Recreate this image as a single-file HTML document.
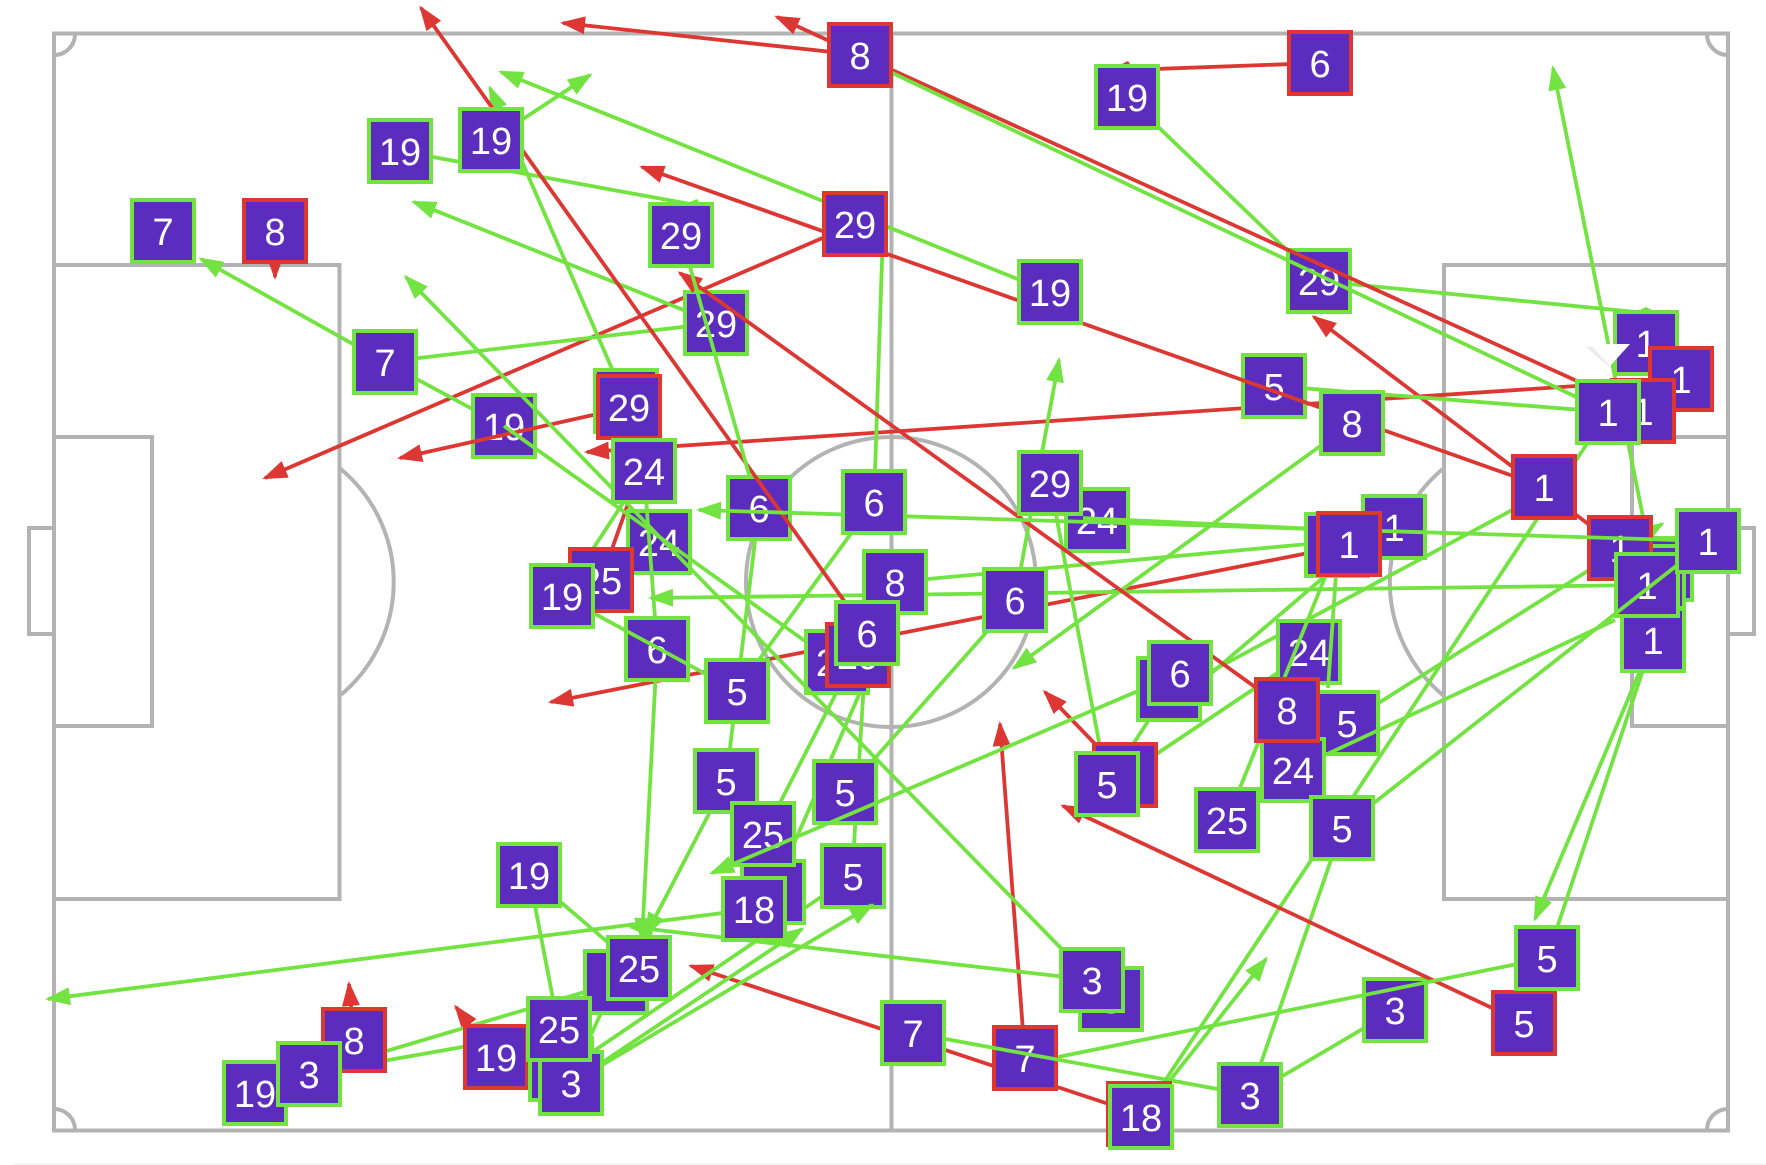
<!DOCTYPE html>
<html lang="en">
<head>
<meta charset="utf-8">
<title>Pass map</title>
<style>
html,body{margin:0;padding:0;background:#fff;}
svg{display:block;}
.p{fill:none;stroke:#b3b3b3;stroke-width:4;}
line{stroke-width:3.8;fill:none;}
.g{stroke:#72e340;}
.r{stroke:#dc3733;}
.ga{stroke:#72e340;marker-end:url(#mg);}
.ra{stroke:#dc3733;marker-end:url(#mr);}
rect.bg{fill:#5b2cbd;stroke:#72e340;stroke-width:4;}
rect.br{fill:#5b2cbd;stroke:#dc3733;stroke-width:4;}
text{font-family:"Liberation Sans",Arial,sans-serif;font-size:38px;fill:#fff;text-anchor:middle;}
</style>
</head>
<body>
<svg width="1766" height="1165" viewBox="0 0 1766 1165" xmlns="http://www.w3.org/2000/svg">
<defs>
<marker id="mg" markerUnits="userSpaceOnUse" markerWidth="26" markerHeight="20" refX="22" refY="9" orient="auto"><path d="M0,0 L25,9 L0,18 Z" fill="#72e340"/></marker>
<marker id="mr" markerUnits="userSpaceOnUse" markerWidth="26" markerHeight="20" refX="22" refY="9" orient="auto"><path d="M0,0 L25,9 L0,18 Z" fill="#dc3733"/></marker>
</defs>
<rect x="12" y="1163" width="1754" height="2" fill="#f4f6f7"/>
<!-- pitch -->
<rect class="p" x="54" y="33.5" width="1674" height="1097"/>
<line class="p" x1="891.5" y1="33.5" x2="891.5" y2="1130.5"/>
<circle class="p" cx="891" cy="582" r="145"/>
<rect class="p" x="54" y="265" width="285.5" height="634"/>
<rect class="p" x="1444" y="265" width="284" height="634"/>
<rect class="p" x="54" y="437" width="98" height="289"/>
<rect class="p" x="1632" y="437" width="96" height="289"/>
<path class="p" d="M54,528 H29 V634 H54"/>
<path class="p" d="M1728,528 H1754 V634 H1728"/>
<path class="p" d="M339.5,468 A147,147 0 0 1 339.5,696"/>
<path class="p" d="M1444,468 A147,147 0 0 0 1444,696"/>
<path class="p" d="M54,55 A21,21 0 0 0 75,33.5"/>
<path class="p" d="M1707,33.5 A21,21 0 0 0 1728,55"/>
<path class="p" d="M54,1109 A21,21 0 0 1 75,1130.5"/>
<path class="p" d="M1707,1130.5 A21,21 0 0 1 1728,1109"/>

<!-- tier 0 lines -->
<line class="ra" x1="860" y1="55" x2="563" y2="23"/>
<line class="ra" x1="860" y1="55" x2="777" y2="17"/>
<line class="ra" x1="855" y1="224" x2="265" y2="478"/>
<line class="ra" x1="1620" y1="548" x2="1314" y2="317"/>
<line class="ra" x1="1681" y1="379" x2="587" y2="452"/>
<line class="ra" x1="275" y1="231" x2="275" y2="277"/>
<line class="r" x1="1320" y1="63" x2="1127" y2="70"/>
<line class="ra" x1="1349" y1="545" x2="551" y2="702"/>
<line class="ra" x1="1139" y1="1114" x2="691" y2="966"/>
<line class="ra" x1="1025" y1="1058" x2="1000" y2="724"/>
<line class="ra" x1="1125" y1="775" x2="1045" y2="692"/>
<line class="ra" x1="354" y1="1040" x2="349" y2="984"/>
<line class="ra" x1="495" y1="1058" x2="456" y2="1007"/>
<line class="r" x1="601" y1="580" x2="640" y2="470"/>

<line class="ga" x1="1050" y1="292" x2="501" y2="72"/>
<line class="ga" x1="491" y1="140" x2="590" y2="75"/>
<line class="ga" x1="626" y1="401" x2="490" y2="88"/>
<line class="g" x1="400" y1="151" x2="690" y2="204"/>
<line class="ga" x1="716" y1="323" x2="414" y2="202"/>
<line class="ga" x1="385" y1="362" x2="201" y2="259"/>
<line class="g" x1="385" y1="362" x2="716" y2="323"/>
<line class="g" x1="385" y1="362" x2="504" y2="426"/>
<line class="g" x1="874" y1="502" x2="883" y2="230"/>
<line class="ga" x1="895" y1="582" x2="1384" y2="537"/>
<line class="ga" x1="1647" y1="585" x2="651" y2="598"/>
<line class="g" x1="759" y1="508" x2="726" y2="781"/>
<line class="ga" x1="726" y1="781" x2="646" y2="935"/>
<line class="ga" x1="657" y1="649" x2="642" y2="940"/>
<line class="g" x1="529" y1="875" x2="639" y2="969"/>
<line class="g" x1="529" y1="875" x2="559" y2="1030"/>
<line class="ga" x1="754" y1="909" x2="48" y2="999"/>
<line class="ga" x1="1092" y1="980" x2="631" y2="927"/>
<line class="g" x1="309" y1="1074" x2="559" y2="1030"/>
<line class="g" x1="309" y1="1074" x2="615" y2="983"/>
<line class="g" x1="570" y1="1080" x2="615" y2="983"/>
<line class="ga" x1="570" y1="1084" x2="802" y2="929"/>
<line class="g" x1="852" y1="876" x2="585" y2="1057"/>
<line class="g" x1="867" y1="633" x2="852" y2="877"/>
<line class="g" x1="867" y1="633" x2="763" y2="836"/>
<line class="g" x1="772" y1="894" x2="886" y2="633"/>
<line class="g" x1="737" y1="690" x2="874" y2="502"/>
<line class="g" x1="1015" y1="600" x2="845" y2="792"/>
<line class="ga" x1="1352" y1="423" x2="1014" y2="668"/>
<line class="ga" x1="1015" y1="600" x2="1059" y2="360"/>
<line class="g" x1="1050" y1="483" x2="1107" y2="784"/>
<line class="g" x1="1127" y1="97" x2="1319" y2="281"/>
<line class="g" x1="1319" y1="281" x2="1646" y2="313"/>
<line class="g" x1="1274" y1="386" x2="1608" y2="412"/>
<line class="ga" x1="1655" y1="577" x2="1553" y2="68"/>
<line class="g" x1="1141" y1="1117" x2="1608" y2="412"/>
<line class="g" x1="1250" y1="1095" x2="1342" y2="828"/>
<line class="g" x1="1250" y1="1095" x2="1395" y2="1010"/>
<line class="ga" x1="1141" y1="1117" x2="1266" y2="959"/>
<line class="g" x1="1547" y1="958" x2="1653" y2="640"/>
<line class="ga" x1="1653" y1="640" x2="1535" y2="919"/>
<line class="ga" x1="1347" y1="723" x2="1662" y2="524"/>
<line class="g" x1="1180" y1="688" x2="1544" y2="493"/>
<line class="g" x1="1125" y1="775" x2="1309" y2="652"/>
<line class="g" x1="1180" y1="700" x2="1352" y2="553"/>
<line class="g" x1="1107" y1="784" x2="1175" y2="680"/>
<line class="g" x1="644" y1="471" x2="562" y2="596"/>

<!-- tier 1 boxes -->
<g transform="translate(759 508)"><rect class="bg" x="-31" y="-31" width="62" height="62"/><text y="14">6</text></g>
<g transform="translate(716 323)"><rect class="bg" x="-31" y="-31" width="62" height="62"/><text y="14">29</text></g>
<g transform="translate(504 426)"><rect class="bg" x="-31" y="-31" width="62" height="62"/><text y="14">19</text></g>
<g transform="translate(1319 281)"><rect class="bg" x="-31" y="-31" width="62" height="62"/><text y="14">29</text></g>
<g transform="translate(1274 386)"><rect class="bg" x="-31" y="-31" width="62" height="62"/><text y="14">5</text></g>
<g transform="translate(659 542)"><rect class="bg" x="-31" y="-31" width="62" height="62"/><text y="14">24</text></g>
<g transform="translate(657 649)"><rect class="bg" x="-31" y="-31" width="62" height="62"/><text y="14">6</text></g>
<g transform="translate(837 662)"><rect class="bg" x="-31" y="-31" width="62" height="62"/><text y="14">29</text></g>
<g transform="translate(845 792)"><rect class="bg" x="-31" y="-31" width="62" height="62"/><text y="14">5</text></g>
<g transform="translate(726 781)"><rect class="bg" x="-31" y="-31" width="62" height="62"/><text y="14">5</text></g>
<g transform="translate(773 892)"><rect class="bg" x="-31" y="-31" width="62" height="62"/></g>
<g transform="translate(763 834)"><rect class="bg" x="-31" y="-31" width="62" height="62"/><text y="14">25</text></g>
<g transform="translate(853 876)"><rect class="bg" x="-31" y="-31" width="62" height="62"/><text y="14">5</text></g>
<g transform="translate(1347 723)"><rect class="bg" x="-31" y="-31" width="62" height="62"/><text y="14">5</text></g>
<g transform="translate(1661 569)"><rect class="bg" x="-31" y="-31" width="62" height="62"/></g>
<g transform="translate(1653 577)"><rect class="bg" x="-31" y="-31" width="62" height="62"/></g>
<g transform="translate(1653 640)"><rect class="bg" x="-31" y="-31" width="62" height="62"/><text y="14">1</text></g>
<g transform="translate(1620 548)"><rect class="br" x="-31" y="-31" width="62" height="62"/><text y="14">1</text></g>
<g transform="translate(1647 585)"><rect class="bg" x="-31" y="-31" width="62" height="62"/><text y="14">1</text></g>
<g transform="translate(1025 1058)"><rect class="br" x="-31" y="-31" width="62" height="62"/><text y="14">7</text></g>
<g transform="translate(1395 1010)"><rect class="bg" x="-31" y="-31" width="62" height="62"/><text y="14">3</text></g>
<g transform="translate(1097 520)"><rect class="bg" x="-31" y="-31" width="62" height="62"/><text y="14">24</text></g>
<g transform="translate(1394 527)"><rect class="bg" x="-31" y="-31" width="62" height="62"/><text y="14">1</text></g>
<g transform="translate(1309 652)"><rect class="bg" x="-31" y="-31" width="62" height="62"/><text y="14">24</text></g>

<!-- tier 2 lines -->
<line class="ra" x1="867" y1="633" x2="421" y2="8"/>
<line class="r" x1="1643" y1="411" x2="870" y2="60"/>
<line class="g" x1="1608" y1="412" x2="865" y2="60"/>
<line class="ra" x1="1544" y1="487" x2="642" y2="167"/>
<line class="ra" x1="629" y1="407" x2="400" y2="458"/>
<line class="ra" x1="1287" y1="710" x2="680" y2="273"/>
<line class="ra" x1="1524" y1="1023" x2="1063" y2="806"/>
<line class="g" x1="681" y1="235" x2="750" y2="478"/>
<line class="g" x1="504" y1="426" x2="805" y2="641"/>
<line class="ga" x1="1092" y1="980" x2="406" y2="277"/>
<line class="ga" x1="1708" y1="541" x2="699" y2="510"/>
<line class="g" x1="1339" y1="530" x2="1083" y2="518"/>
<line class="g" x1="644" y1="471" x2="655" y2="618"/>
<line class="g" x1="562" y1="596" x2="737" y2="691"/>
<line class="ga" x1="1180" y1="673" x2="712" y2="873"/>
<line class="ga" x1="570" y1="1084" x2="872" y2="905"/>
<line class="g" x1="1293" y1="770" x2="1615" y2="620"/>
<line class="g" x1="1342" y1="828" x2="1708" y2="541"/>
<line class="g" x1="913" y1="1033" x2="1250" y2="1095"/>
<line class="g" x1="1058" y1="1057" x2="1547" y2="958"/>
<line class="g" x1="1227" y1="820" x2="1338" y2="545"/>
<line class="g" x1="1338" y1="545" x2="1328" y2="688"/>

<!-- tier 3 boxes -->
<g transform="translate(860 55)"><rect class="br" x="-31" y="-31" width="62" height="62"/><text y="14">8</text></g>
<g transform="translate(163 231)"><rect class="bg" x="-31" y="-31" width="62" height="62"/><text y="14">7</text></g>
<g transform="translate(275 231)"><rect class="br" x="-31" y="-31" width="62" height="62"/><text y="14">8</text></g>
<g transform="translate(400 151)"><rect class="bg" x="-31" y="-31" width="62" height="62"/><text y="14">19</text></g>
<g transform="translate(491 140)"><rect class="bg" x="-31" y="-31" width="62" height="62"/><text y="14">19</text></g>
<g transform="translate(681 235)"><rect class="bg" x="-31" y="-31" width="62" height="62"/><text y="14">29</text></g>
<g transform="translate(855 224)"><rect class="br" x="-31" y="-31" width="62" height="62"/><text y="14">29</text></g>
<g transform="translate(385 362)"><rect class="bg" x="-31" y="-31" width="62" height="62"/><text y="14">7</text></g>
<g transform="translate(626 401)"><rect class="bg" x="-31" y="-31" width="62" height="62"/></g>
<g transform="translate(629 407)"><rect class="br" x="-31" y="-31" width="62" height="62"/><text y="14">29</text></g>
<g transform="translate(644 471)"><rect class="bg" x="-31" y="-31" width="62" height="62"/><text y="14">24</text></g>
<g transform="translate(601 580)"><rect class="br" x="-31" y="-31" width="62" height="62"/><text y="14">25</text></g>
<g transform="translate(562 596)"><rect class="bg" x="-31" y="-31" width="62" height="62"/><text y="14">19</text></g>
<g transform="translate(874 502)"><rect class="bg" x="-31" y="-31" width="62" height="62"/><text y="14">6</text></g>
<g transform="translate(895 582)"><rect class="bg" x="-31" y="-31" width="62" height="62"/><text y="14">8</text></g>
<g transform="translate(858 655)"><rect class="br" x="-31" y="-31" width="62" height="62"/><text y="14">29</text></g>
<g transform="translate(867 633)"><rect class="bg" x="-31" y="-31" width="62" height="62"/><text y="14">6</text></g>
<g transform="translate(737 691)"><rect class="bg" x="-31" y="-31" width="62" height="62"/><text y="14">5</text></g>
<g transform="translate(754 909)"><rect class="bg" x="-31" y="-31" width="62" height="62"/><text y="14">18</text></g>
<g transform="translate(529 875)"><rect class="bg" x="-31" y="-31" width="62" height="62"/><text y="14">19</text></g>
<g transform="translate(354 1040)"><rect class="br" x="-31" y="-31" width="62" height="62"/><text y="14">8</text></g>
<g transform="translate(255 1093)"><rect class="bg" x="-31" y="-31" width="62" height="62"/><text y="14">19</text></g>
<g transform="translate(309 1074)"><rect class="bg" x="-31" y="-31" width="62" height="62"/><text y="14">3</text></g>
<g transform="translate(496 1057)"><rect class="br" x="-31" y="-31" width="62" height="62"/><text y="14">19</text></g>
<g transform="translate(561 1069)"><rect class="bg" x="-31" y="-31" width="62" height="62"/></g>
<g transform="translate(571 1083)"><rect class="bg" x="-31" y="-31" width="62" height="62"/><text y="14">3</text></g>
<g transform="translate(616 982)"><rect class="bg" x="-31" y="-31" width="62" height="62"/></g>
<g transform="translate(639 968)"><rect class="bg" x="-31" y="-31" width="62" height="62"/><text y="14">25</text></g>
<g transform="translate(559 1029)"><rect class="bg" x="-31" y="-31" width="62" height="62"/><text y="14">25</text></g>
<g transform="translate(1320 63)"><rect class="br" x="-31" y="-31" width="62" height="62"/><text y="14">6</text></g>
<g transform="translate(1127 97)"><rect class="bg" x="-31" y="-31" width="62" height="62"/><text y="14">19</text></g>
<g transform="translate(1050 292)"><rect class="bg" x="-31" y="-31" width="62" height="62"/><text y="14">19</text></g>
<g transform="translate(1352 423)"><rect class="bg" x="-31" y="-31" width="62" height="62"/><text y="14">8</text></g>
<g transform="translate(1050 483)"><rect class="bg" x="-31" y="-31" width="62" height="62"/><text y="14">29</text></g>
<g transform="translate(1646 343)"><rect class="bg" x="-31" y="-31" width="62" height="62"/><text y="14">1</text></g>
<g transform="translate(1681 379)"><rect class="br" x="-31" y="-31" width="62" height="62"/><text y="14">1</text></g>
<g transform="translate(1643 411)"><rect class="br" x="-31" y="-31" width="62" height="62"/><text y="14">1</text></g>
<g transform="translate(1608 412)"><rect class="bg" x="-31" y="-31" width="62" height="62"/><text y="14">1</text></g>
<g transform="translate(1544 487)"><rect class="br" x="-31" y="-31" width="62" height="62"/><text y="14">1</text></g>
<g transform="translate(1337 545)"><rect class="bg" x="-31" y="-31" width="62" height="62"/></g>
<g transform="translate(1349 544)"><rect class="br" x="-31" y="-31" width="62" height="62"/><text y="14">1</text></g>
<g transform="translate(1708 541)"><rect class="bg" x="-31" y="-31" width="62" height="62"/><text y="14">1</text></g>
<g transform="translate(1015 600)"><rect class="bg" x="-31" y="-31" width="62" height="62"/><text y="14">6</text></g>
<g transform="translate(1169 689)"><rect class="bg" x="-31" y="-31" width="62" height="62"/></g>
<g transform="translate(1180 673)"><rect class="bg" x="-31" y="-31" width="62" height="62"/><text y="14">6</text></g>
<g transform="translate(1125 775)"><rect class="br" x="-31" y="-31" width="62" height="62"/><text y="14">8</text></g>
<g transform="translate(1107 784)"><rect class="bg" x="-31" y="-31" width="62" height="62"/><text y="14">5</text></g>
<g transform="translate(1293 770)"><rect class="bg" x="-31" y="-31" width="62" height="62"/><text y="14">24</text></g>
<g transform="translate(1287 710)"><rect class="br" x="-31" y="-31" width="62" height="62"/><text y="14">8</text></g>
<g transform="translate(1227 820)"><rect class="bg" x="-31" y="-31" width="62" height="62"/><text y="14">25</text></g>
<g transform="translate(1342 828)"><rect class="bg" x="-31" y="-31" width="62" height="62"/><text y="14">5</text></g>
<g transform="translate(1111 999)"><rect class="bg" x="-31" y="-31" width="62" height="62"/><text y="14">3</text></g>
<g transform="translate(1092 980)"><rect class="bg" x="-31" y="-31" width="62" height="62"/><text y="14">3</text></g>
<g transform="translate(913 1033)"><rect class="bg" x="-31" y="-31" width="62" height="62"/><text y="14">7</text></g>
<g transform="translate(1139 1114)"><rect class="br" x="-31" y="-31" width="62" height="62"/></g>
<g transform="translate(1141 1117)"><rect class="bg" x="-31" y="-31" width="62" height="62"/><text y="14">18</text></g>
<g transform="translate(1250 1095)"><rect class="bg" x="-31" y="-31" width="62" height="62"/><text y="14">3</text></g>
<g transform="translate(1524 1023)"><rect class="br" x="-31" y="-31" width="62" height="62"/><text y="14">5</text></g>
<g transform="translate(1547 958)"><rect class="bg" x="-31" y="-31" width="62" height="62"/><text y="14">5</text></g>

<!-- tiny visible arrow tips -->
<polygon points="690,202 697,199 699,202" fill="#72e340"/>
<polygon points="1640,310 1646,307 1652,310" fill="#72e340"/>
<polygon points="1122,64 1128,61 1130,64" fill="#dc3733"/>

<!-- white marker -->
<polygon points="1587,346 1630,344 1610,366" fill="#ececec" transform="translate(-1 1)"/>
<polygon points="1590,344 1630,344 1610,366" fill="#ffffff"/>
</svg>
</body>
</html>
